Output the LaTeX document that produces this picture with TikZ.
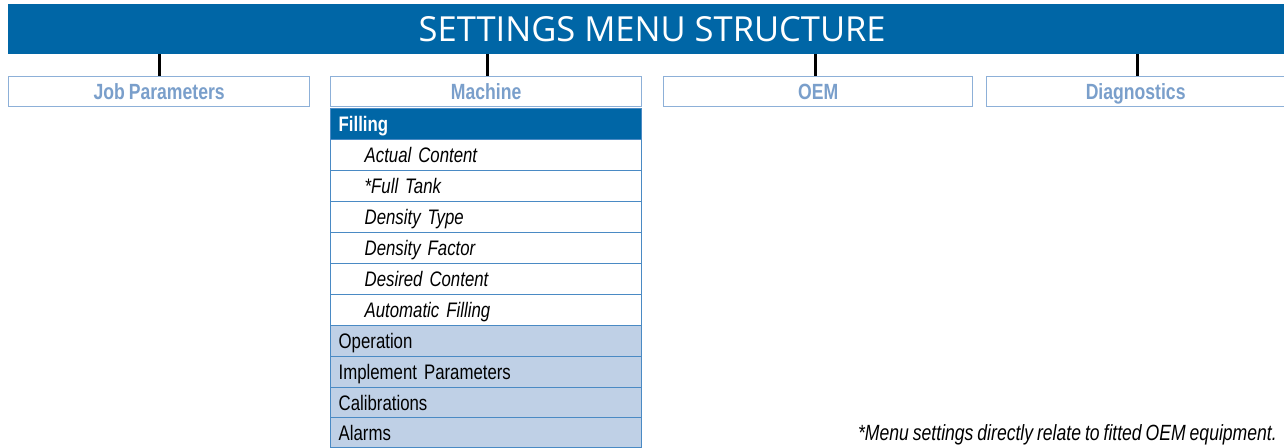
\documentclass[tikz,border=0pt]{standalone}
\usepackage{fontspec}
\setmainfont{Liberation Sans}[FakeStretch=0.8, WordSpace=0.8]
\newfontfamily\titlefont{Open Sans}
\definecolor{hdrblue}{HTML}{0066A6}
\definecolor{boxline}{HTML}{8DB0D8}
\definecolor{boxtext}{HTML}{7A9FCB}
\definecolor{rowline}{HTML}{4A8AC4}
\definecolor{rowfill}{HTML}{BFD0E6}
\tikzset{
  topbox/.style={draw=boxline, line width=1.3pt, fill=white, anchor=north west,
    minimum height=30, inner sep=0pt, text height=16, text depth=0pt,
    font=\fontsize{22}{22}\selectfont\bfseries, text=boxtext},
  rowbase/.style={draw=rowline, line width=1.3pt, anchor=north west, minimum width=311,
    minimum height=31, inner sep=0pt, align=left, text height=15.5, text depth=0pt},
  subrow/.style={rowbase, fill=white, text width=311, font=\fontsize{21}{21}\selectfont\itshape, text=black},
  mainrow/.style={rowbase, fill=rowfill, text width=311, font=\fontsize{21}{21}\selectfont, text=black},
  headrow/.style={rowbase, fill=hdrblue, text width=311, font=\fontsize{21}{21}\selectfont\bfseries, text=white},
  tick/.style={line width=3pt, black}
}
\begin{document}
\begin{tikzpicture}[x=1pt,y=-1pt]
\useasboundingbox (0,0) rectangle (1284,447);
\fill[white] (0,0) rectangle (1284,447);
% title bar
\node[fill=hdrblue, anchor=north west, minimum width=1276, minimum height=50, inner sep=0pt] (title) at (8,4) {};
\node[text height=25, text depth=0pt, inner sep=0pt, text=white,
  font=\titlefont\fontsize{34.5}{34.5}\selectfont] (titletext) at ([xshift=6pt]title.center) {SETTINGS MENU STRUCTURE};
% top boxes
\node[topbox, minimum width=301] (job) at (8,76) {Job Parameters};
\node[topbox, minimum width=311] (mach) at (330,76) {Machine};
\node[topbox, minimum width=309] (oem) at (663,76) {OEM};
\node[topbox, minimum width=298] (diag) at (986,76) {Diagnostics};
% ticks
\coordinate (t1) at (159,54); \coordinate (t2) at (487,54);
\coordinate (t3) at (815,54); \coordinate (t4) at (1137,54);
\draw[tick] (t1) -- (t1 |- job.north);
\draw[tick] (t2) -- (t2 |- mach.north);
\draw[tick] (t3) -- (t3 |- oem.north);
\draw[tick] (t4) -- (t4 |- diag.north);
% menu rows
\node[headrow] (fill) at (330,108) {\hspace*{8pt}Filling};
\node[subrow] (r1) at (330,139) {\hspace*{34pt}Actual Content};
\node[subrow] (r2) at (330,170) {\hspace*{34pt}*Full Tank};
\node[subrow] (r3) at (330,201) {\hspace*{34pt}Density Type};
\node[subrow] (r4) at (330,232) {\hspace*{34pt}Density Factor};
\node[subrow] (r5) at (330,263) {\hspace*{34pt}Desired Content};
\node[subrow] (r6) at (330,294) {\hspace*{34pt}Automatic Filling};
\node[mainrow] (m1) at (330,325) {\hspace*{8pt}Operation};
\node[mainrow] (m2) at (330,356) {\hspace*{8pt}Implement Parameters};
\node[mainrow] (m3) at (330,387) {\hspace*{8pt}Calibrations};
\node[mainrow, minimum height=30] (m4) at (330,417) {\hspace*{8pt}Alarms};
% footnote
\node[anchor=base east, inner sep=0pt, font=\fontsize{22}{22}\selectfont\itshape] (note) at (1277,440)
  {*Menu settings directly relate to fitted OEM equipment.};
\end{tikzpicture}
\end{document}
